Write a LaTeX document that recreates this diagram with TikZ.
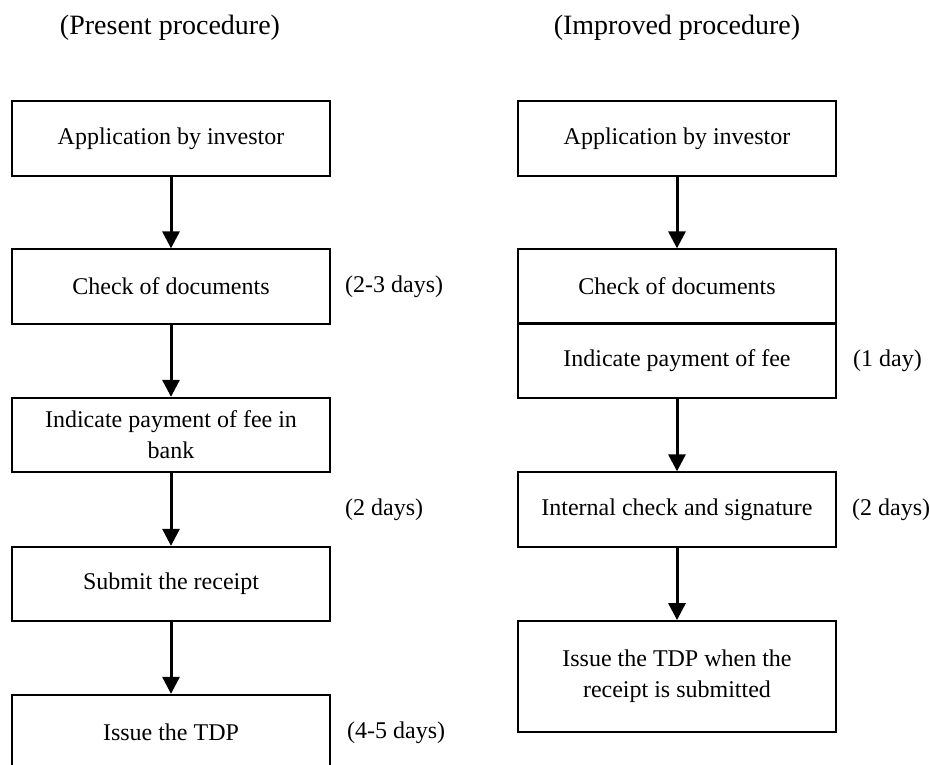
\documentclass[tikz,border=0pt]{standalone}
\usepackage{fontspec}
\setmainfont{Liberation Serif}
\usetikzlibrary{arrows.meta}
\begin{document}
\begin{tikzpicture}[x=1pt,y=-1pt,
  stepbox/.style={draw, line width=1.8pt, minimum width=318pt, minimum height=74.5pt,
    inner sep=0pt, align=center, font=\fontsize{24}{31}\selectfont},
  duration/.style={anchor=west, inner sep=0pt, font=\fontsize{24}{28}\selectfont},
  heading/.style={anchor=base, inner sep=0pt, font=\fontsize{28}{32}\selectfont},
  flow/.style={line width=3pt, -{Triangle[length=17pt,width=17pt]}}]
\useasboundingbox (0,0) rectangle (930,765);
\clip (0,0) rectangle (930,765);

% headings
\node[heading] (hl) at (170,35) {(Present procedure)};
\node[heading] (hr) at (677,35) {(Improved procedure)};

% present procedure
\node[stepbox] (l1) at (171,138.5) {Application by investor};
\node[stepbox] (l2) at (171,286.5) {Check of documents};
\node[stepbox] (l3) at (171,435) {Indicate payment of fee in\\bank};
\node[stepbox] (l4) at (171,584) {Submit the receipt};
\node[stepbox] (l5) at (171,732) {Issue the TDP};

\draw[flow] (l1.south) -- (l2.north);
\draw[flow] (l2.south) -- (l3.north);
\draw[flow] (l3.south) -- (l4.north);
\draw[flow] (l4.south) -- (l5.north);

\node[duration] (d1) at (345,286.5) {(2-3 days)};
\node[duration] (d2) at (345,510) {(2 days)};
\node[duration] (d3) at (347,733) {(4-5 days)};

% improved procedure
\node[stepbox] (r1) at (677,138.5) {Application by investor};
\node[stepbox] (r2) at (677,286.5) {Check of documents};
\node[stepbox] (r3) at (677,360.5) {Indicate payment of fee};
\node[stepbox] (r4) at (677,509.5) {Internal check and signature};
\node[stepbox, minimum height=111pt] (r5) at (677,676.5) {Issue the TDP when the\\receipt is submitted};

\draw[flow] (r1.south) -- (r2.north);
\draw[flow] (r3.south) -- (r4.north);
\draw[flow] (r4.south) -- (r5.north);

\node[duration] (e1) at (853,360.5) {(1 day)};
\node[duration] (e2) at (852,509.5) {(2 days)};
\end{tikzpicture}
\end{document}
